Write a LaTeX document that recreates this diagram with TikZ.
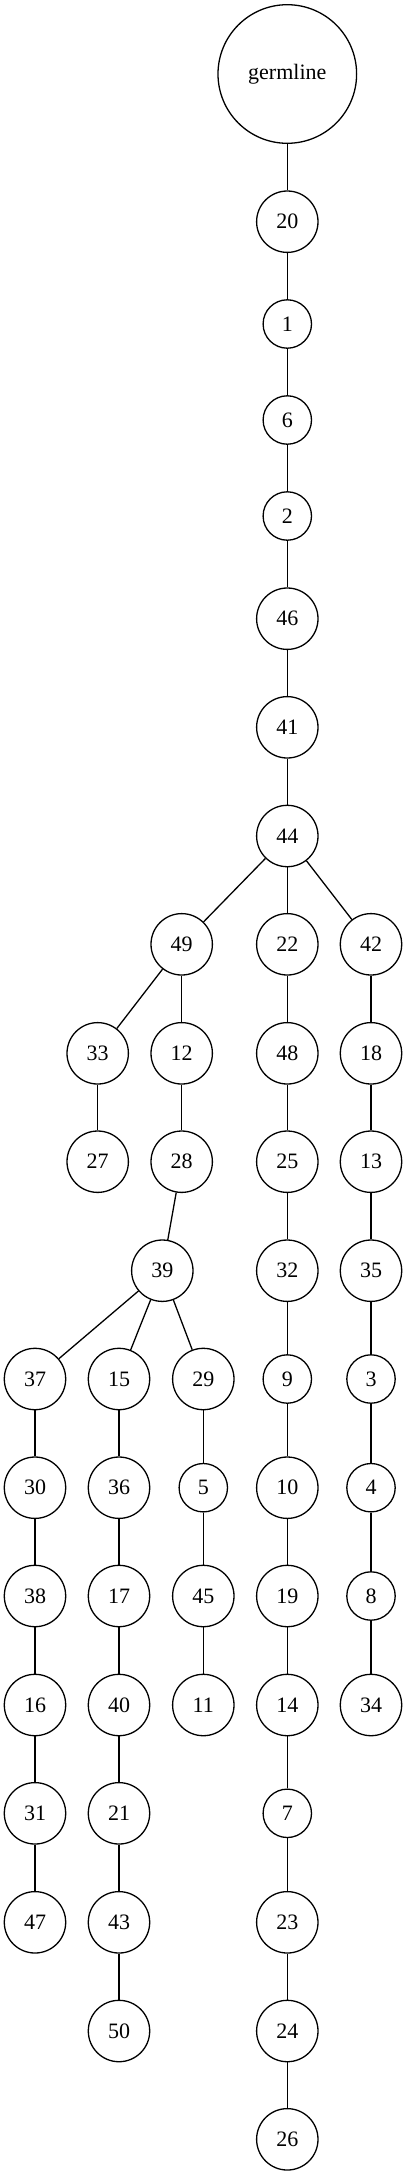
\documentclass[tikz,border=0pt]{standalone}
\usepackage{fontspec}
\setmainfont{Liberation Serif}
\begin{document}
\begin{tikzpicture}
  [x=1pt,y=-1pt,
   clone/.style={circle,draw=black,line width=1.3pt,inner sep=0,
                 minimum size=61.4pt,font=\fontsize{22}{26}\selectfont},
   small/.style={clone,minimum size=48.4pt},
   root/.style={clone,minimum size=138.6pt},
   link/.style={line width=1.3pt}]
  \useasboundingbox (0,0) rectangle (407,2176);
  % trunk
  \node[root] (germline) at (287.3,74) {germline};
  \node[clone] (n20) at (287.3,221.7) {20};
  \node[small] (n1) at (287.3,324) {1};
  \node[small] (n6) at (287.3,420) {6};
  \node[small] (n2) at (287.3,516) {2};
  \node[clone] (n46) at (287.3,618.7) {46};
  \node[clone] (n41) at (287.3,727.3) {41};
  \node[clone] (n44) at (287.3,836) {44};
  % left branch
  \node[clone] (n49) at (181.7,944.3) {49};
  \node[clone] (n33) at (97.7,1053.3) {33};
  \node[clone] (n12) at (181.7,1053.3) {12};
  \node[clone] (n27) at (97.7,1161.7) {27};
  \node[clone] (n28) at (181.7,1161.7) {28};
  \node[clone] (n39) at (162.3,1270.7) {39};
  \node[clone] (n37) at (35,1379) {37};
  \node[clone] (n30) at (35,1487.7) {30};
  \node[clone] (n38) at (35,1596) {38};
  \node[clone] (n16) at (35,1705) {16};
  \node[clone] (n31) at (35,1813.3) {31};
  \node[clone] (n47) at (35,1922.3) {47};
  \node[clone] (n15) at (119,1379) {15};
  \node[clone] (n36) at (119,1487.7) {36};
  \node[clone] (n17) at (119,1596) {17};
  \node[clone] (n40) at (119,1705) {40};
  \node[clone] (n21) at (119,1813.3) {21};
  \node[clone] (n43) at (119,1922.3) {43};
  \node[clone] (n50) at (119,2031) {50};
  \node[clone] (n29) at (203.3,1379) {29};
  \node[small] (n5) at (203.3,1487.7) {5};
  \node[clone] (n45) at (203.3,1596) {45};
  \node[clone] (n11) at (203.3,1705) {11};
  % middle branch
  \node[clone] (n22) at (287.3,944.3) {22};
  \node[clone] (n48) at (287.3,1053.3) {48};
  \node[clone] (n25) at (287.3,1161.7) {25};
  \node[clone] (n32) at (287.3,1270.7) {32};
  \node[small] (n9) at (287.3,1379) {9};
  \node[clone] (n10) at (287.3,1487.7) {10};
  \node[clone] (n19) at (287.3,1596) {19};
  \node[clone] (n14) at (287.3,1705) {14};
  \node[small] (n7) at (287.3,1813.3) {7};
  \node[clone] (n23) at (287.3,1922.3) {23};
  \node[clone] (n24) at (287.3,2031) {24};
  \node[clone] (n26) at (287.3,2139.3) {26};
  % right branch
  \node[clone] (n42) at (371,944.3) {42};
  \node[clone] (n18) at (371,1053.3) {18};
  \node[clone] (n13) at (371,1161.7) {13};
  \node[clone] (n35) at (371,1270.7) {35};
  \node[small] (n3) at (371,1379) {3};
  \node[small] (n4) at (371,1487.7) {4};
  \node[small] (n8) at (371,1596) {8};
  \node[clone] (n34) at (371,1705) {34};
  % edges
  \draw[link] (germline) to (n20);
  \draw[link] (n20) to (n1);
  \draw[link] (n1) to (n6);
  \draw[link] (n6) to (n2);
  \draw[link] (n2) to (n46);
  \draw[link] (n46) to (n41);
  \draw[link] (n41) to (n44);
  \draw[link] (n44) to (n49);
  \draw[link] (n44) to (n22);
  \draw[link] (n44) to (n42);
  \draw[link] (n49) to (n33);
  \draw[link] (n49) to (n12);
  \draw[link] (n33) to (n27);
  \draw[link] (n12) to (n28);
  \draw[link] (n28) to (n39);
  \draw[link] (n39) to (n37);
  \draw[link] (n39) to (n15);
  \draw[link] (n39) to (n29);
  \draw[link] (n37) to (n30);
  \draw[link] (n30) to (n38);
  \draw[link] (n38) to (n16);
  \draw[link] (n16) to (n31);
  \draw[link] (n31) to (n47);
  \draw[link] (n15) to (n36);
  \draw[link] (n36) to (n17);
  \draw[link] (n17) to (n40);
  \draw[link] (n40) to (n21);
  \draw[link] (n21) to (n43);
  \draw[link] (n43) to (n50);
  \draw[link] (n29) to (n5);
  \draw[link] (n5) to (n45);
  \draw[link] (n45) to (n11);
  \draw[link] (n22) to (n48);
  \draw[link] (n48) to (n25);
  \draw[link] (n25) to (n32);
  \draw[link] (n32) to (n9);
  \draw[link] (n9) to (n10);
  \draw[link] (n10) to (n19);
  \draw[link] (n19) to (n14);
  \draw[link] (n14) to (n7);
  \draw[link] (n7) to (n23);
  \draw[link] (n23) to (n24);
  \draw[link] (n24) to (n26);
  \draw[link] (n42) to (n18);
  \draw[link] (n18) to (n13);
  \draw[link] (n13) to (n35);
  \draw[link] (n35) to (n3);
  \draw[link] (n3) to (n4);
  \draw[link] (n4) to (n8);
  \draw[link] (n8) to (n34);
\end{tikzpicture}
\end{document}
